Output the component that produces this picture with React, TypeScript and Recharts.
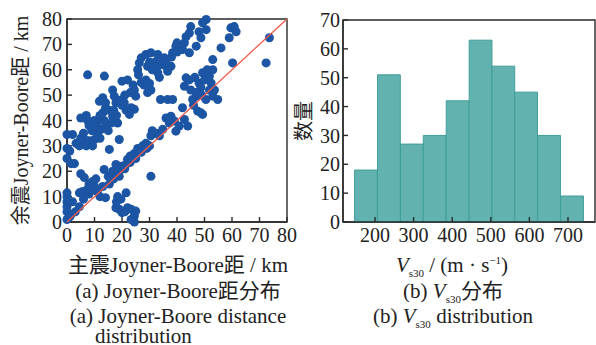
import React from 'react';
import {
  ScatterChart, Scatter, XAxis, YAxis, ZAxis, ReferenceLine, ReferenceArea,
  BarChart, Bar,
} from 'recharts';

// Joyner-Boore distances (km): main shock vs aftershock
const mainRjb = [
  0, 1, 0, 0, 0, 0, 0, 1.5, 3, 4.5, 2,
  4.5, 5.7, 5, 6.3, 7.5, 8, 9.3, 10, 10.5, 11, 12, 14, 13, 8, 6, 9,
  13.5, 15, 15.4, 16.6, 17.8, 18.4, 19.6, 20, 21.5, 22, 23, 24.5, 25.7, 26.3, 27.5, 28.7, 30, 30.5, 31, 32.4, 33.6, 19, 21, 23, 25, 17, 27, 29,
  18.4, 19.6, 17.8, 19, 20, 21.5, 22, 23.3, 24.5, 25, 24.5, 23.3, 18, 21,
  30.5,
  0, 2, 1, 0, 1.5, 2.7, 0,
  3.3, 5, 4.5, 6.3, 7, 8, 5, 7, 7.5, 7.5,
  9.3, 10, 10.5, 11, 11.8, 12.4, 13, 13.5, 14.2, 15.4, 11.8, 13, 13.6, 15.4,
  16.6, 17.2, 17.8, 16.6, 18.4, 19, 19, 20, 20.8, 22, 21.5, 23.3, 24.5, 22.7,
  24, 24.5, 25, 25.7, 26.3, 27, 28, 28.7, 30, 30.5, 29.3, 28.7, 29.3, 30.5, 31,
  32.4, 33, 33.6, 34, 34.8, 35.4, 36, 36.6, 38.4, 36.6, 37.8, 38.4, 39.6, 40, 41.5, 42.7, 43.3, 44.5, 45, 44.5, 47, 48, 48.7, 50.6, 50.6, 49.3,
  9, 10, 12, 14, 15, 16, 17, 18, 20, 12, 8, 6, 14, 26, 27, 32, 34, 36, 38, 40, 42, 30, 33, 21, 23,
  34.8, 36, 37.2, 37.8, 39, 39.6, 40.8, 42, 42.7, 43.9,
  42.7, 43.3, 44.5, 45, 45.7, 47, 47.5, 48.7, 49.3, 48, 49.3, 50, 51, 51.8, 53, 52.4, 51.8, 53, 53.6, 54.8, 48.7, 50.5, 46, 47, 49, 46.5,
  53, 56, 59, 59.6, 60.8, 61.5, 60.2, 72.4, 73.6,
];
const afterRjb = [
  1, 2, 4, 6, 8, 10, 11.5, 3, 4, 6, 8,
  11.5, 12, 19, 17.5, 13, 15, 16, 14, 17, 12, 10, 9.6, 14, 11, 9, 12.5,
  20.7, 18, 15, 20, 22.7, 19.4, 20.7, 22, 22.7, 24.7, 26, 27, 29, 28, 30, 31, 30, 34, 36, 35, 34, 18, 21, 23.5, 25, 17, 27.5, 29,
  10, 9, 5.6, 5, 3.7, 11.5, 5.6, 5, 2.4, 4.3, 0, 1, 8, 4,
  18,
  34.5, 34.5, 28, 25, 23, 23, 29,
  31, 33, 30, 32.5, 30, 32, 41, 42, 40, 58,
  30, 32.5, 38, 35, 40, 36.5, 43, 40, 38, 44, 47.6, 49, 57.5, 28.6,
  52, 49.6, 47, 41.7, 39, 32.5, 48, 55.5, 47, 56, 44, 45, 44.4, 42.4,
  54, 52, 49.6, 60, 62.7, 64.7, 54, 56, 54.6, 52, 51, 66, 61.4, 66.7, 60,
  61.4, 58.8, 57, 48.3, 64, 64.7, 61.4, 48.3, 48.3, 59.4, 61.4, 66.7, 69.3, 70.6, 68, 70.6, 73, 74.5, 77, 66.7, 69.3, 75, 72.6, 75.8, 79.8, 78.5,
  36, 40, 42, 45, 36, 39, 44, 42, 46, 33, 38, 35, 47, 58, 55, 63, 62, 63, 65, 67, 68, 63, 66, 50, 51,
  36.5, 41, 39, 41.7, 39.8, 35.8, 37.8, 45, 40.4, 37.8,
  53.5, 56.8, 56, 52, 48.3, 49.6, 43.7, 43, 42.4, 54.8, 58.8, 56, 60, 57.5, 60, 54.8, 52, 49.6, 52, 48.3, 53, 48.3, 46, 51, 50, 57,
  64, 68.6, 72.6, 76.5, 77, 75, 62.7, 62.7, 72.6,
];
const distTicks = [0, 10, 20, 30, 40, 50, 60, 70, 80];

// Vs30 histogram
const vsBinEdges = [147, 206, 266, 325, 384, 444, 503, 562, 621, 681, 740];
const vsCounts = [18, 51, 27, 30, 42, 63, 54, 45, 30, 9];
const vsTicks = [200, 300, 400, 500, 600, 700];
const countTicks = [0, 10, 20, 30, 40, 50, 60, 70];
const vsDomain: [number, number] = [117, 770];

const FONT = "'Liberation Serif', 'DejaVu Serif', serif";
const CJK = "'Liberation Serif', 'Noto Sans CJK SC', serif";
const INK = '#222222';
const FRAME = '#2a2a2a';
const tickStyle = { fontSize: 20, fill: INK, fontFamily: FONT };
const lineStyle = { stroke: FRAME, strokeWidth: 1.4 };

const points = mainRjb.map((x, i) => ({ x, y: afterRjb[i] }));
const bins = vsCounts.map((count, i) => ({
  mid: (vsBinEdges[i] + vsBinEdges[i + 1]) / 2,
  count,
}));

// histogram plot is 252px wide; bar width follows the bin width on that scale
const histW = 252;
const binBar = ((vsBinEdges[1] - vsBinEdges[0]) / (vsDomain[1] - vsDomain[0])) * histW;

const axisTitle = (value: string, offset: number) => ({
  value, angle: -90, position: 'insideLeft' as const, offset,
  fontSize: 20, fill: INK, fontFamily: CJK, style: { textAnchor: 'middle' },
});

const Caption: React.FC<{ left: number; top: number; children: React.ReactNode }> = ({ left, top, children }) => (
  <div style={{
    position: 'absolute', left, top, width: 280, textAlign: 'center',
    whiteSpace: 'nowrap', fontSize: 21, lineHeight: '22px', color: INK, fontFamily: CJK,
  }}>{children}</div>
);

const Vs30 = () => (
  <span><i>V</i><sub style={{ fontSize: 11, lineHeight: 0 }}>s30</sub></span>
);

export default function App() {
  return (
    <div style={{ position: 'absolute', left: 0, top: 0, width: 596, height: 345, overflow: 'hidden', fontFamily: FONT }}>
      <div style={{ position: 'absolute', left: 0, top: 0 }}>
        <ScatterChart width={300} height={250} margin={{ top: 19, right: 13, bottom: 0, left: 7 }}>
          <XAxis type="number" dataKey="x" domain={[0, 80]} ticks={distTicks} interval={0}
            axisLine={lineStyle} tickLine={lineStyle}
            tickSize={-5} tickMargin={11} tick={tickStyle} height={28} />
          <YAxis type="number" dataKey="y" domain={[0, 80]} ticks={distTicks} interval={0}
            axisLine={lineStyle} tickLine={lineStyle}
            tickSize={-5} tickMargin={10} tick={tickStyle} width={60}
            label={axisTitle('余震Joyner-Boore距 / km', 14)} />
          <ZAxis range={[72, 72]} />
          <ReferenceArea x1={0} x2={80} y1={0} y2={80} fillOpacity={0} stroke={FRAME} strokeWidth={1.4} />
          <Scatter data={points} fill="#1b55a3" isAnimationActive={false} />
          <ReferenceLine segment={[{ x: 0, y: 0 }, { x: 80, y: 80 }]} stroke="#ef5a4c" strokeWidth={1.3} zIndex={700} />
        </ScatterChart>
      </div>

      <div style={{ position: 'absolute', left: 290, top: 0 }}>
        <BarChart width={306} height={250} data={bins} margin={{ top: 20, right: 1, bottom: 0, left: 0 }}>
          <XAxis type="number" dataKey="mid" domain={vsDomain} ticks={vsTicks} interval={0}
            axisLine={lineStyle} tickLine={lineStyle}
            tickSize={-5} tickMargin={11} tick={tickStyle} height={28} />
          <YAxis type="number" domain={[0, 70]} ticks={countTicks} interval={0}
            axisLine={lineStyle} tickLine={lineStyle}
            tickSize={-5} tickMargin={8} tick={tickStyle} width={53}
            label={axisTitle('数量', 14)} />
          <ReferenceArea x1={vsDomain[0]} x2={vsDomain[1]} y1={0} y2={70} fillOpacity={0} stroke={FRAME} strokeWidth={1.4} />
          <Bar dataKey="count" barSize={binBar} fill="#62b2af" stroke="#3f9e9a" strokeWidth={1} isAnimationActive={false} />
        </BarChart>
      </div>

      <Caption left={38} top={254}>主震Joyner-Boore距 / km</Caption>
      <Caption left={38} top={280}>(a) Joyner-Boore距分布</Caption>
      <Caption left={38} top={305}>(a) Joyner-Boore distance</Caption>
      <div style={{ position: 'absolute', left: 95, top: 327, fontSize: 21, lineHeight: '18px', color: INK, whiteSpace: 'nowrap' }}>distribution</div>

      <Caption left={312} top={254}><Vs30 /> / (m · s<sup style={{ fontSize: 11, lineHeight: 0 }}>−1</sup>)</Caption>
      <Caption left={313} top={280}>(b) <Vs30 />分布</Caption>
      <Caption left={313} top={305}>(b) <Vs30 /> distribution</Caption>
    </div>
  );
}
